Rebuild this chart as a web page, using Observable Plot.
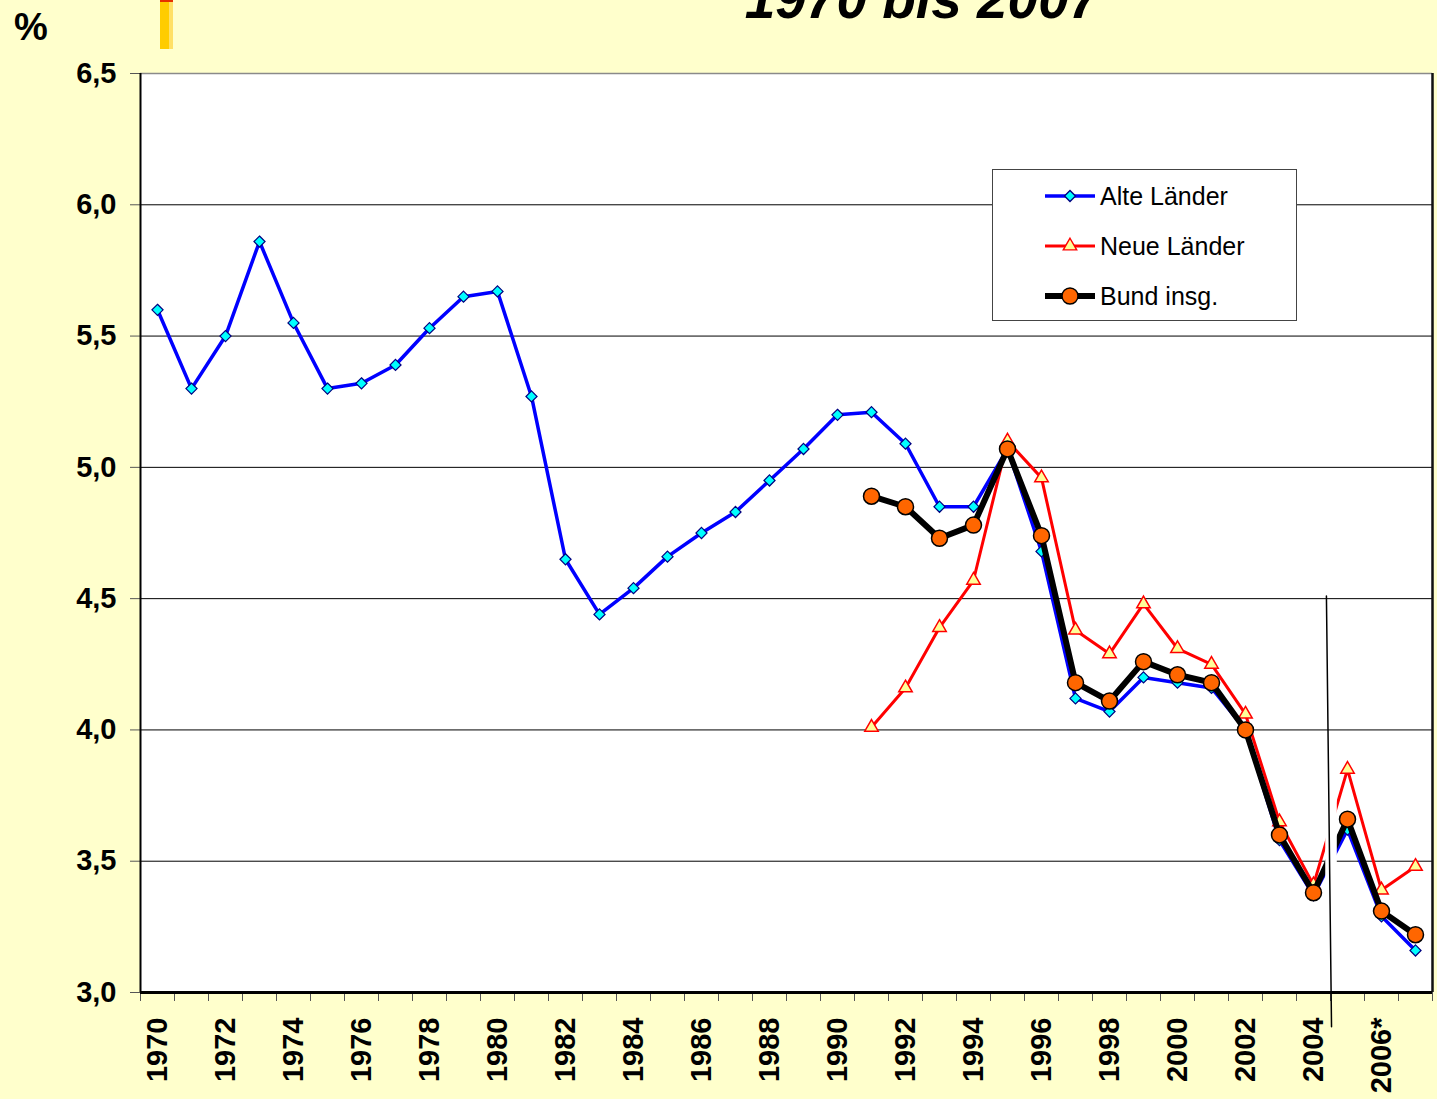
<!DOCTYPE html>
<html>
<head>
<meta charset="utf-8">
<script src="https://cdn.jsdelivr.net/npm/d3@7"></script>
<script src="https://cdn.jsdelivr.net/npm/@observablehq/plot@0.6"></script>
<style>
  html, body { margin: 0; padding: 0; background: #FFFFCC; }
  #wrap { position: relative; width: 1437px; height: 1099px; overflow: hidden; background: #FFFFCC; font-family: "Liberation Sans", Arial, sans-serif; }
  #chart { position: absolute; left: 0; top: 0; }
  #deco { position: absolute; left: 0; top: 0; }
  #legend { position: absolute; left: 992px; top: 169px; width: 303px; height: 150px; background: #fff; border: 1px solid #444; }
</style>
</head>
<body>
<div id="wrap">
  <div id="chart"></div>
  <svg id="deco" width="1437" height="1099">
    <rect x="160" y="0" width="13" height="49" fill="#FFCC00"></rect>
    <rect x="169" y="0" width="4" height="49" fill="#FFE066"></rect>
    <rect x="160" y="0" width="13" height="2" fill="#E53000"></rect>
    <text x="14" y="40" font-size="38" font-weight="bold" font-family="Liberation Sans, Arial, sans-serif" fill="#000">%</text>
    <text x="922" y="18" text-anchor="middle" font-size="55" font-weight="bold" font-style="italic" font-family="Liberation Sans, Arial, sans-serif" fill="#000">1970 bis 2007</text>
  </svg>
  <div id="legend"></div>
</div>
<script>
// ---- data ----
const years = d3.range(1970, 2008);
const alteLaender = [5.60,5.30,5.50,5.86,5.55,5.30,5.32,5.39,5.53,5.65,5.67,5.27,4.65,4.44,4.54,4.66,4.75,4.83,4.95,5.07,5.20,5.21,5.09,4.85,4.85,5.07,4.68,4.12,4.07,4.20,4.18,4.16,4.00,3.58,3.37,3.62,3.29,3.16];
const ostYears = d3.range(1991, 2008);
const neueLaender = [4.01,4.16,4.39,4.57,5.10,4.96,4.38,4.29,4.48,4.31,4.25,4.06,3.65,3.41,3.85,3.39,3.48];
const bundInsg = [4.89,4.85,4.73,4.78,5.07,4.74,4.18,4.11,4.26,4.21,4.18,4.00,3.60,3.38,3.66,3.31,3.22];
const labelYears = [1970,1972,1974,1976,1978,1980,1982,1984,1986,1988,1990,1992,1994,1996,1998,2000,2002,2004,2006];
const labelText = {2006: "2006*"};
const yTicks = [3.0,3.5,4.0,4.5,5.0,5.5,6.0,6.5];
const gridValues = [3.5,4.0,4.5,5.0,5.5,6.0];
const seriesNames = ["Alte Länder", "Neue Länder", "Bund insg."];
// break between 2004 and 2005 (as in the original graphic)
const gap = [{x1: 2004.36, x2: 2004.70, y1: 3.015, y2: 3.90}];
const separator = [{year: 2004.38, value: 4.51}, {year: 2004.53, value: 2.87}];

// ---- tables ----
const alte = years.map((y, i) => ({year: y, value: alteLaender[i]}));
const neue = ostYears.map((y, i) => ({year: y, value: neueLaender[i]}));
const bund = ostYears.map((y, i) => ({year: y, value: bundInsg[i]}));
const boundaries = d3.range(1969.5, 2008, 1);
const fmt = d => d.toFixed(1).replace(".", ",");

const chart = Plot.plot({
  width: 1437,
  height: 1099,
  marginLeft: 140,
  marginRight: 5,
  marginTop: 73,
  marginBottom: 107,
  x: {domain: [1969.5, 2007.5], axis: null},
  y: {domain: [3, 6.5], axis: null},
  style: {background: "transparent", fontFamily: "'Liberation Sans', Arial, sans-serif", overflow: "visible", color: "#000"},
  marks: [
    Plot.frame({fill: "white", stroke: null}),
    Plot.ruleY(gridValues, {stroke: "#000", strokeWidth: 1}),
    Plot.ruleY([6.5], {stroke: "#8a8a8a", strokeWidth: 1.5}),
    Plot.axisY({ticks: yTicks, tickSize: 10, tickPadding: 14, tickFormat: fmt, fontSize: 29, fontWeight: "bold", stroke: "#555", fill: "#000"}),
    Plot.axisX({ticks: boundaries, tickSize: 9, tickFormat: () => "", stroke: "#555"}),
    Plot.text(labelYears, {x: d => d, frameAnchor: "bottom", text: d => labelText[d] || String(d), rotate: -90, textAnchor: "end", lineAnchor: "middle", dy: 25, fontSize: 29, fontWeight: "bold", fill: "#000"}),
    Plot.ruleX([1969.5], {stroke: "#000", strokeWidth: 2}),
    Plot.ruleX([2007.5], {stroke: "#111", strokeWidth: 2.5}),
    Plot.ruleY([3], {stroke: "#000", strokeWidth: 3}),
    Plot.line(alte, {x: "year", y: "value", stroke: "#0000FF", strokeWidth: 3.5}),
    Plot.dot(alte, {x: "year", y: "value", symbol: "diamond2", r: 5, fill: "#00FFFF", stroke: "#000080", strokeWidth: 1.2}),
    Plot.line(neue, {x: "year", y: "value", stroke: "#FF0000", strokeWidth: 3}),
    Plot.dot(neue, {x: "year", y: "value", symbol: "triangle", r: 5, fill: "#FFFF99", stroke: "#FF0000", strokeWidth: 1.5}),
    Plot.line(bund, {x: "year", y: "value", stroke: "#000", strokeWidth: 6}),
    Plot.dot(bund, {x: "year", y: "value", symbol: "circle", r: 8, fill: "#FF6600", stroke: "#000", strokeWidth: 1.5}),
    Plot.rect(gap, {x1: "x1", x2: "x2", y1: "y1", y2: "y2", fill: "white"}),
    Plot.line(separator, {x: "year", y: "value", stroke: "#000", strokeWidth: 1.5})
  ]
});
document.getElementById("chart").appendChild(chart);

// ---- legend ----
const lg = d3.select("#legend").append("svg").attr("width", 303).attr("height", 150);
const styles = [
  {stroke: "#0000FF", w: 3.5, sym: d3.symbolDiamond2, size: 77, fill: "#00FFFF", sstroke: "#000080"},
  {stroke: "#FF0000", w: 3, sym: d3.symbolTriangle, size: 78, fill: "#FFFF99", sstroke: "#FF0000"},
  {stroke: "#000", w: 6, sym: d3.symbolCircle, size: 200, fill: "#FF6600", sstroke: "#000"}
];
seriesNames.forEach((name, i) => {
  const cy = 26 + i * 50;
  const s = styles[i];
  lg.append("line").attr("x1", 52).attr("x2", 102).attr("y1", cy).attr("y2", cy).attr("stroke", s.stroke).attr("stroke-width", s.w);
  lg.append("path").attr("d", d3.symbol(s.sym, s.size)()).attr("transform", `translate(77,${cy})`).attr("fill", s.fill).attr("stroke", s.sstroke).attr("stroke-width", 1.4);
  lg.append("text").attr("x", 107).attr("y", cy + 9).attr("font-size", 25).attr("font-family", "Liberation Sans, Arial, sans-serif").attr("fill", "#000").text(name);
});
</script>
</body>
</html>
